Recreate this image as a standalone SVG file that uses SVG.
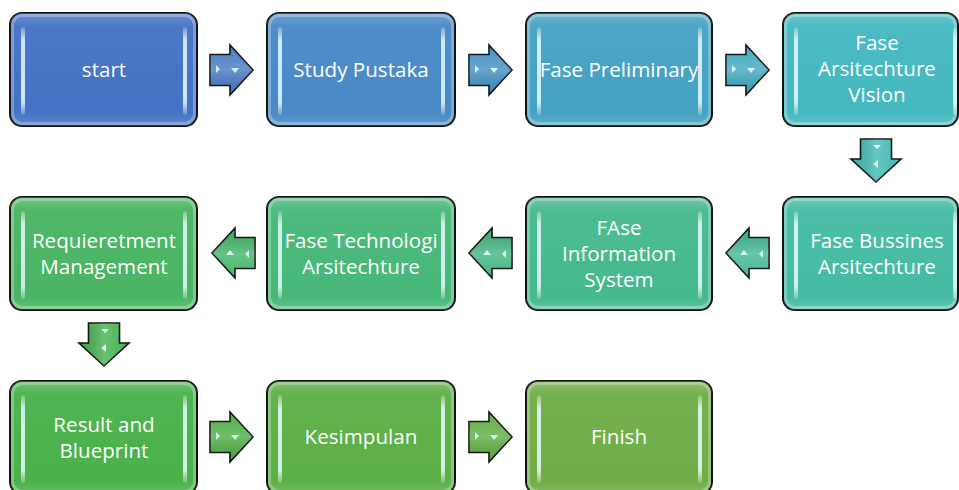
<svg xmlns="http://www.w3.org/2000/svg" xmlns:xlink="http://www.w3.org/1999/xlink" width="959" height="490" viewBox="0 0 959 490">
<style>
.box{stroke:#111;stroke-width:2}
.rim{fill:none;stroke:#fff;stroke-opacity:0.28;stroke-width:3}
.strip{fill:url(#stripG)}
.lbl{font-family:"Open Sans","Noto Sans",sans-serif;font-size:20.6px;fill:#fff;text-anchor:middle}
.arr{stroke:#111;stroke-width:1.6;stroke-linejoin:miter}
</style>
<defs>
<linearGradient id="shade" x1="0" y1="0" x2="0" y2="1">
<stop offset="0" stop-color="#fff" stop-opacity="0.22"/>
<stop offset="0.12" stop-color="#fff" stop-opacity="0.04"/>
<stop offset="0.88" stop-color="#fff" stop-opacity="0"/>
<stop offset="1" stop-color="#fff" stop-opacity="0.15"/>
</linearGradient>
<linearGradient id="stripG" x1="0" y1="0" x2="0" y2="1">
<stop offset="0" stop-color="#fff" stop-opacity="0.2"/>
<stop offset="0.15" stop-color="#e6fbff" stop-opacity="0.85"/>
<stop offset="0.85" stop-color="#e6fbff" stop-opacity="0.85"/>
<stop offset="1" stop-color="#fff" stop-opacity="0.2"/>
</linearGradient>
<linearGradient id="arrShine" x1="0" y1="0" x2="0" y2="1">
<stop offset="0" stop-color="#fff" stop-opacity="0"/>
<stop offset="0.5" stop-color="#fff" stop-opacity="0.18"/>
<stop offset="1" stop-color="#000" stop-opacity="0.06"/>
</linearGradient>
<path id="arrShape" d="M0,-15.5 H20 V-25 L43,0 L20,25 V15.5 H0 Z"/>
<g id="arrow">
<use xlink:href="#arrShape" class="arr"/>
<use xlink:href="#arrShape" fill="url(#arrShine)"/>
<polygon points="6,-5 10,-1 6,3" fill="#e0fbff" fill-opacity="0.9"/>
<polygon points="21,-2 29,-2 25,3" fill="#e0fbff" fill-opacity="0.9"/>
</g>
</defs>

<g id="connectors">
<use xlink:href="#arrow" fill="#4A7CC6" transform="translate(210,70)"/>
<use xlink:href="#arrow" fill="#4692C4" transform="translate(469,70)"/>
<use xlink:href="#arrow" fill="#43ABC1" transform="translate(726,70)"/>
<use xlink:href="#arrow" fill="#44BAB2" transform="translate(876,139) rotate(90)"/>
<use xlink:href="#arrow" fill="#45B998" transform="translate(769,253) rotate(180)"/>
<use xlink:href="#arrow" fill="#46B783" transform="translate(512,253) rotate(180)"/>
<use xlink:href="#arrow" fill="#47B56C" transform="translate(255,253) rotate(180)"/>
<use xlink:href="#arrow" fill="#48B254" transform="translate(104,323) rotate(90)"/>
<use xlink:href="#arrow" fill="#51B048" transform="translate(210,437)"/>
<use xlink:href="#arrow" fill="#64AE46" transform="translate(469,437)"/>
</g>

<g id="n1">
<rect class="box" x="10" y="13" width="187" height="113" rx="12" fill="#4472C4"/>
<rect x="10" y="13" width="187" height="113" rx="12" fill="url(#shade)"/>
<rect class="rim" x="12.5" y="15.5" width="182" height="108" rx="10"/>
<rect class="strip" x="21" y="27" width="4" height="88" rx="2"/>
<rect class="strip" x="183" y="27" width="4" height="88" rx="2"/>
<text class="lbl" x="104" y="77">start</text>
</g>
<g id="n2">
<rect class="box" x="267" y="13" width="188" height="113" rx="12" fill="#4889C6"/>
<rect x="267" y="13" width="188" height="113" rx="12" fill="url(#shade)"/>
<rect class="rim" x="269.5" y="15.5" width="183" height="108" rx="10"/>
<rect class="strip" x="278" y="27" width="4" height="88" rx="2"/>
<rect class="strip" x="441" y="27" width="4" height="88" rx="2"/>
<text class="lbl" x="361" y="77">Study Pustaka</text>
</g>
<g id="n3">
<rect class="box" x="526" y="13" width="186" height="113" rx="12" fill="#45A2C2"/>
<rect x="526" y="13" width="186" height="113" rx="12" fill="url(#shade)"/>
<rect class="rim" x="528.5" y="15.5" width="181" height="108" rx="10"/>
<rect class="strip" x="537" y="27" width="4" height="88" rx="2"/>
<rect class="strip" x="698" y="27" width="4" height="88" rx="2"/>
<text class="lbl" x="619" y="77">Fase Preliminary</text>
</g>
<g id="n4">
<rect class="box" x="783" y="13" width="175" height="113" rx="12" fill="#45B8C0"/>
<rect x="783" y="13" width="175" height="113" rx="12" fill="url(#shade)"/>
<rect class="rim" x="785.5" y="15.5" width="170" height="108" rx="10"/>
<rect class="strip" x="794" y="27" width="4" height="88" rx="2"/>
<rect class="strip" x="953" y="27" width="4" height="88" rx="2"/>
<text class="lbl" x="877" y="50">Fase</text>
<text class="lbl" x="877" y="76">Arsitechture</text>
<text class="lbl" x="877" y="102">Vision</text>
</g>
<g id="n5">
<rect class="box" x="783" y="197" width="175" height="113" rx="12" fill="#45BBA4"/>
<rect x="783" y="197" width="175" height="113" rx="12" fill="url(#shade)"/>
<rect class="rim" x="785.5" y="199.5" width="170" height="108" rx="10"/>
<rect class="strip" x="794" y="211" width="4" height="88" rx="2"/>
<rect class="strip" x="953" y="211" width="4" height="88" rx="2"/>
<text class="lbl" x="877" y="248">Fase Bussines</text>
<text class="lbl" x="877" y="274">Arsitechture</text>
</g>
<g id="n6">
<rect class="box" x="526" y="197" width="186" height="113" rx="12" fill="#46B98E"/>
<rect x="526" y="197" width="186" height="113" rx="12" fill="url(#shade)"/>
<rect class="rim" x="528.5" y="199.5" width="181" height="108" rx="10"/>
<rect class="strip" x="537" y="211" width="4" height="88" rx="2"/>
<rect class="strip" x="698" y="211" width="4" height="88" rx="2"/>
<text class="lbl" x="619" y="235">FAse</text>
<text class="lbl" x="619" y="261">Information</text>
<text class="lbl" x="619" y="287">System</text>
</g>
<g id="n7">
<rect class="box" x="267" y="197" width="188" height="113" rx="12" fill="#47B779"/>
<rect x="267" y="197" width="188" height="113" rx="12" fill="url(#shade)"/>
<rect class="rim" x="269.5" y="199.5" width="183" height="108" rx="10"/>
<rect class="strip" x="278" y="211" width="4" height="88" rx="2"/>
<rect class="strip" x="441" y="211" width="4" height="88" rx="2"/>
<text class="lbl" x="361" y="248">Fase Technologi</text>
<text class="lbl" x="361" y="274">Arsitechture</text>
</g>
<g id="n8">
<rect class="box" x="10" y="197" width="187" height="113" rx="12" fill="#49B463"/>
<rect x="10" y="197" width="187" height="113" rx="12" fill="url(#shade)"/>
<rect class="rim" x="12.5" y="199.5" width="182" height="108" rx="10"/>
<rect class="strip" x="21" y="211" width="4" height="88" rx="2"/>
<rect class="strip" x="183" y="211" width="4" height="88" rx="2"/>
<text class="lbl" x="104" y="248">Requieretment</text>
<text class="lbl" x="104" y="274">Management</text>
</g>
<g id="n9">
<rect class="box" x="10" y="381" width="187" height="113" rx="12" fill="#4AB14B"/>
<rect x="10" y="381" width="187" height="113" rx="12" fill="url(#shade)"/>
<rect class="rim" x="12.5" y="383.5" width="182" height="108" rx="10"/>
<rect class="strip" x="21" y="395" width="4" height="88" rx="2"/>
<rect class="strip" x="183" y="395" width="4" height="88" rx="2"/>
<text class="lbl" x="104" y="432">Result and</text>
<text class="lbl" x="104" y="458">Blueprint</text>
</g>
<g id="n10">
<rect class="box" x="267" y="381" width="188" height="113" rx="12" fill="#5DAF47"/>
<rect x="267" y="381" width="188" height="113" rx="12" fill="url(#shade)"/>
<rect class="rim" x="269.5" y="383.5" width="183" height="108" rx="10"/>
<rect class="strip" x="278" y="395" width="4" height="88" rx="2"/>
<rect class="strip" x="441" y="395" width="4" height="88" rx="2"/>
<text class="lbl" x="361" y="444">Kesimpulan</text>
</g>
<g id="n11">
<rect class="box" x="526" y="381" width="186" height="113" rx="12" fill="#70AD47"/>
<rect x="526" y="381" width="186" height="113" rx="12" fill="url(#shade)"/>
<rect class="rim" x="528.5" y="383.5" width="181" height="108" rx="10"/>
<rect class="strip" x="537" y="395" width="4" height="88" rx="2"/>
<rect class="strip" x="698" y="395" width="4" height="88" rx="2"/>
<text class="lbl" x="619" y="444">Finish</text>
</g>
</svg>
